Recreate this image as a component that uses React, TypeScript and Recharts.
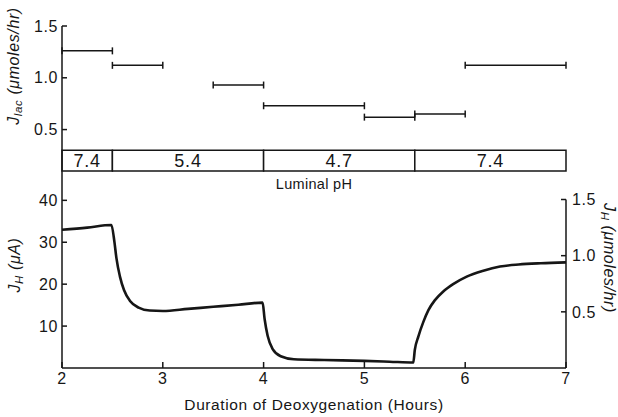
import { ComposedChart, Line, Scatter, ErrorBar, XAxis, YAxis, ReferenceArea, ReferenceLine } from "recharts";

// J_H trace (μA)
const hours = [
  2.0, 2.25, 2.49, 2.52, 2.54, 2.575, 2.615, 2.675, 2.76, 2.87, 3.0, 3.25, 3.5, 3.75, 3.99, 4.01, 4.04,
  4.09, 4.17, 4.3, 4.6, 5.0, 5.25, 5.485, 5.5, 5.535, 5.585, 5.635, 5.7, 5.78, 5.88, 6.015, 6.18, 6.345,
  6.53, 6.75, 7.0,
];
const currentUA = [
  33.0, 33.5, 34.1, 30.1, 26.2, 21.8, 18.6, 16.0, 14.4, 13.7, 13.6, 14.1, 14.6, 15.1, 15.6, 11.7, 7.7,
  4.5, 2.8, 2.1, 1.9, 1.7, 1.5, 1.3, 4.3, 7.5, 11.0, 13.8, 16.2, 18.2, 20.0, 21.8, 23.2, 24.2,
  24.7, 25.0, 25.2,
];

// J_lac collection periods
const lacStart = [2.0, 2.5, 3.5, 4.0, 5.0, 5.5, 6.0];
const lacEnd = [2.5, 3.0, 4.0, 5.0, 5.5, 6.0, 7.0];
const lacValue = [1.26, 1.12, 0.93, 0.73, 0.62, 0.65, 1.12];

// luminal pH periods
const phStart = [2.0, 2.5, 4.0, 5.5];
const phEnd = [2.5, 4.0, 5.5, 7.0];
const phValue = ["7.4", "5.4", "4.7", "7.4"];

const xTicks = [2, 3, 4, 5, 6, 7];
const lacTicks = [0.5, 1.0, 1.5];
const uaTicks = [10, 20, 30, 40];
const umolTicks = [0.5, 1.0, 1.5];

const INK = "#161616";
const FONT = '"Liberation Sans", Arial, Helvetica, sans-serif';
const UA_PER_UMOL_HR = 26.8; // 1 μmol/hr of H+ = 26.8 μA
const UA_MAX = 47;

const lineData = hours.map((t, i) => ({ t, jh: currentUA[i] }));
const lacData = lacStart.map((s, i) => ({
  mid: (s + lacEnd[i]) / 2,
  half: (lacEnd[i] - s) / 2,
  jlac: lacValue[i],
}));

const tickStyle = { fill: INK, fontSize: 16, letterSpacing: 0.6 };
const axisStyle = { stroke: INK, strokeWidth: 1.5 };

const Title = ({ x, y, rot, children }: { x: number; y: number; rot: number; children: any }) => (
  <div
    style={{
      position: "absolute",
      left: x,
      top: y,
      transform: `translate(-50%, -50%) rotate(${rot}deg)`,
      whiteSpace: "nowrap",
      fontStyle: "italic",
      fontSize: 16,
      letterSpacing: 0.6,
      color: INK,
      lineHeight: "18px",
    }}
  >
    {children}
  </div>
);

const sub = { fontSize: 11.5, verticalAlign: "-3px" } as const;

export default function App() {
  return (
    <div
      style={{
        position: "absolute",
        left: 0,
        top: 0,
        width: 618,
        height: 417,
        background: "#fff",
        fontFamily: FONT,
        overflow: "hidden",
      }}
    >
      <div style={{ position: "absolute", left: 0, top: 0 }}>
        <ComposedChart width={618} height={180} margin={{ top: 26, right: 52, bottom: 9, left: 22 }}>
          <XAxis type="number" dataKey="mid" domain={[2, 7]} hide allowDataOverflow />
          <YAxis
            type="number"
            domain={[0.1, 1.5]}
            ticks={lacTicks}
            tickFormatter={(v: number) => v.toFixed(1)}
            width={40}
            tickSize={-5}
            tickMargin={9}
            tick={tickStyle}
            axisLine={axisStyle}
            tickLine={axisStyle}
            allowDataOverflow
          />
          {phStart.map((s, i) => (
            <ReferenceArea
              key={i}
              x1={s}
              x2={phEnd[i]}
              y1={0.1}
              y2={0.3}
              fill="#fff"
              fillOpacity={1}
              stroke={INK}
              strokeWidth={1.5}
              ifOverflow="visible"
              label={{ value: phValue[i], position: "center", fontSize: 18, letterSpacing: 0.8, fill: INK }}
            />
          ))}
          <Scatter data={lacData} dataKey="jlac" shape={() => <g />} isAnimationActive={false}>
            <ErrorBar dataKey="half" direction="x" width={3.5} stroke={INK} strokeWidth={1.5} isAnimationActive={false} />
          </Scatter>
        </ComposedChart>
      </div>

      <div style={{ position: "absolute", left: 0, top: 150 }}>
        <ComposedChart width={618} height={267} data={lineData} margin={{ top: 21, right: 12, bottom: 0, left: 22 }}>
          <XAxis
            type="number"
            dataKey="t"
            domain={[2, 7]}
            ticks={xTicks}
            height={49}
            tickSize={-6}
            tickMargin={11}
            tick={tickStyle}
            axisLine={axisStyle}
            tickLine={axisStyle}
            label={{
              value: "Duration of Deoxygenation (Hours)",
              position: "insideBottom",
              offset: 7,
              fontSize: 15.5,
              letterSpacing: 0.6,
              fill: INK,
            }}
          />
          <YAxis
            yAxisId="l"
            type="number"
            domain={[0, UA_MAX]}
            ticks={uaTicks}
            width={40}
            tickSize={-5}
            tickMargin={9}
            tick={tickStyle}
            axisLine={axisStyle}
            tickLine={axisStyle}
            allowDataOverflow
          />
          <YAxis
            yAxisId="r"
            orientation="right"
            type="number"
            domain={[0, UA_MAX / UA_PER_UMOL_HR]}
            ticks={umolTicks}
            tickFormatter={(v: number) => v.toFixed(1)}
            width={40}
            tickSize={-5}
            tickMargin={11}
            tick={tickStyle}
            axisLine={false}
            tickLine={axisStyle}
            allowDataOverflow
          />
          <ReferenceLine
            yAxisId="r"
            segment={[
              { x: 7, y: 0 },
              { x: 7, y: 1.5 },
            ]}
            stroke={INK}
            strokeWidth={1.5}
          />
          <Line
            yAxisId="l"
            dataKey="jh"
            type="monotone"
            stroke={INK}
            strokeWidth={2.6}
            dot={false}
            isAnimationActive={false}
          />
        </ComposedChart>
      </div>

      <div
        style={{
          position: "absolute",
          left: 314,
          top: 176,
          transform: "translateX(-50%)",
          fontSize: 14.5,
          letterSpacing: 0.3,
          color: INK,
          whiteSpace: "nowrap",
          lineHeight: "17px",
        }}
      >
        Luminal pH
      </div>

      <Title x={16} y={66} rot={-90}>
        J<span style={sub}>lac</span> (μmoles/hr)
      </Title>
      <Title x={17} y={265} rot={-90}>
        J<span style={sub}>H</span> (μA)
      </Title>
      <Title x={607} y={258} rot={90}>
        J<span style={sub}>H</span> (μmoles/hr)
      </Title>
    </div>
  );
}
